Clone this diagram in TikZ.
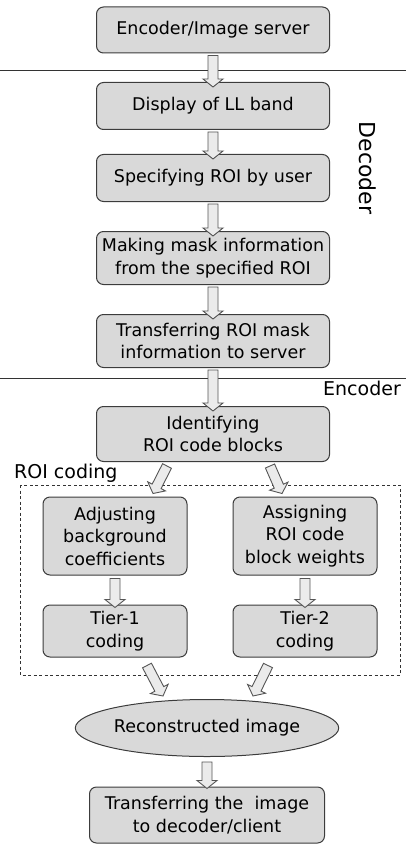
\documentclass[tikz,border=0pt]{standalone}
\usepackage{fontspec}
\setmainfont{DejaVu Sans}
\usetikzlibrary{shapes.geometric,calc}
\definecolor{boxfill}{HTML}{D9D9D9}
\definecolor{boxline}{HTML}{3C3C3C}
\definecolor{arrfill}{HTML}{EBEBEB}
\definecolor{arrline}{HTML}{555555}
\tikzset{
  box/.style={draw=boxline, fill=boxfill, rounded corners=7pt, line width=1pt,
    minimum width=233pt, align=center, inner sep=0pt,
    font=\fontsize{17.5}{22.5}\selectfont},
  smallbox/.style={box, minimum width=144pt},
  ellbox/.style={draw=boxline, fill=boxfill, line width=1pt, ellipse, inner sep=0pt,
    minimum width=225pt, minimum height=57pt, font=\fontsize{17.5}{22}\selectfont},
  barrow/.style={draw=arrline, fill=arrfill, line width=0.9pt, line join=miter},
  sepline/.style={draw=black!80, line width=0.9pt},
  lbl/.style={inner sep=0pt, font=\fontsize{19}{22}\selectfont},
}
\newcommand\blockarrow[2]{%
  \coordinate (bhd) at ($(#2)!8pt!(#1)$);
  \draw[barrow] ($(#1)!5pt!90:(#2)$) -- ($(bhd)!5pt!-90:(#1)$) -- ($(bhd)!10pt!-90:(#1)$)
    -- (#2) -- ($(bhd)!10pt!90:(#1)$) -- ($(bhd)!5pt!90:(#1)$) -- ($(#1)!5pt!-90:(#2)$) -- cycle;}
\begin{document}
\begin{tikzpicture}[x=1pt,y=-1pt]
\useasboundingbox (0,0) rectangle (406,845);
% separator lines
\coordinate (l1a) at (0,70); \coordinate (l1b) at (406,70);
\coordinate (l2a) at (0,378); \coordinate (l2b) at (406,378);
\draw[sepline] (l1a) -- (l1b);
\draw[sepline] (l2a) -- (l2b);
% boxes
\node[box, minimum height=46pt] (b1) at (213,30) {Encoder/Image server};
\node[box, minimum height=47pt] (b2) at (213,106) {Display of LL band};
\node[box, minimum height=47pt] (b3) at (213,178) {Specifying ROI by user};
\node[box, minimum height=53pt] (b4) at (213,258) {Making mask information\\from the specified ROI};
\node[box, minimum height=53pt] (b5) at (213,341) {Transferring ROI mask\\information to server};
\node[box, minimum height=55pt] (b6) at (213,434) {Identifying\\ROI code blocks};
\node[lbl, rotate=-90] (dec) at (368,168) {\fontsize{22}{22}\selectfont Decoder};
\node[lbl, anchor=east] (enc) at (401,388) {Encoder};
\node[lbl, anchor=west] (roic) at (14,473) {ROI coding};
% dashed region
\coordinate (dA) at (20,485); \coordinate (dB) at (400,675);
\draw[dashed, dash pattern=on 3pt off 2.5pt, line width=0.9pt, black!80] (dA) rectangle (dB);
\node[smallbox, minimum height=78pt] (b7) at (115,536) {Adjusting\\background\\coefficients};
\node[smallbox, minimum height=78pt] (b8) at (305,536) {Assigning\\ROI code\\block weights};
\node[smallbox, minimum height=52pt] (b9) at (115,631) {Tier-1\\coding};
\node[smallbox, minimum height=52pt] (b10) at (305,631) {Tier-2\\coding};
\node[ellbox] (ell) at (207,728) {Reconstructed image};
\node[box, minimum width=235pt, minimum height=56pt] (b11) at (207,815) {Transferring the\ \ image\\to decoder/client};
% arrow endpoints
\coordinate (a1s) at ([yshift=-2pt]b1.south); \coordinate (a1e) at ([yshift=-5pt]b2.north);
\coordinate (a2s) at ([yshift=-2pt]b2.south); \coordinate (a2e) at ([yshift=-5pt]b3.north);
\coordinate (a3s) at ([yshift=-2pt]b3.south); \coordinate (a3e) at ([yshift=-5pt]b4.north);
\coordinate (a4s) at ([yshift=-2pt]b4.south); \coordinate (a4e) at ([yshift=-5pt]b5.north);
\coordinate (a5s) at ([yshift=-2pt]b5.south); \coordinate (a5e) at ([yshift=-5pt]b6.north);
\coordinate (a6s) at ([xshift=-46pt,yshift=-4pt]b6.south); \coordinate (a6e) at ([xshift=38pt,yshift=3pt]b7.north);
\coordinate (a7s) at ([xshift=57pt,yshift=-4pt]b6.south); \coordinate (a7e) at ([xshift=-23pt,yshift=3pt]b8.north);
\coordinate (a8s) at ([yshift=-3pt]b7.south); \coordinate (a8e) at ([yshift=-3pt]b9.north);
\coordinate (a9s) at ([yshift=-3pt]b8.south); \coordinate (a9e) at ([yshift=-3pt]b10.north);
\coordinate (a10s) at ([xshift=32pt,yshift=-8pt]b9.south); \coordinate (a10e) at ([xshift=-44pt,yshift=3pt]ell.north);
\coordinate (a11s) at ([xshift=-37pt,yshift=-8pt]b10.south); \coordinate (a11e) at ([xshift=46pt,yshift=3pt]ell.north);
\coordinate (a12s) at ([yshift=-5pt]ell.south); \coordinate (a12e) at ([yshift=-2pt]b11.north);
\blockarrow{a1s}{a1e}
\blockarrow{a2s}{a2e}
\blockarrow{a3s}{a3e}
\blockarrow{a4s}{a4e}
\blockarrow{a5s}{a5e}
\blockarrow{a6s}{a6e}
\blockarrow{a7s}{a7e}
\blockarrow{a8s}{a8e}
\blockarrow{a9s}{a9e}
\blockarrow{a10s}{a10e}
\blockarrow{a11s}{a11e}
\blockarrow{a12s}{a12e}
\end{tikzpicture}
\end{document}
